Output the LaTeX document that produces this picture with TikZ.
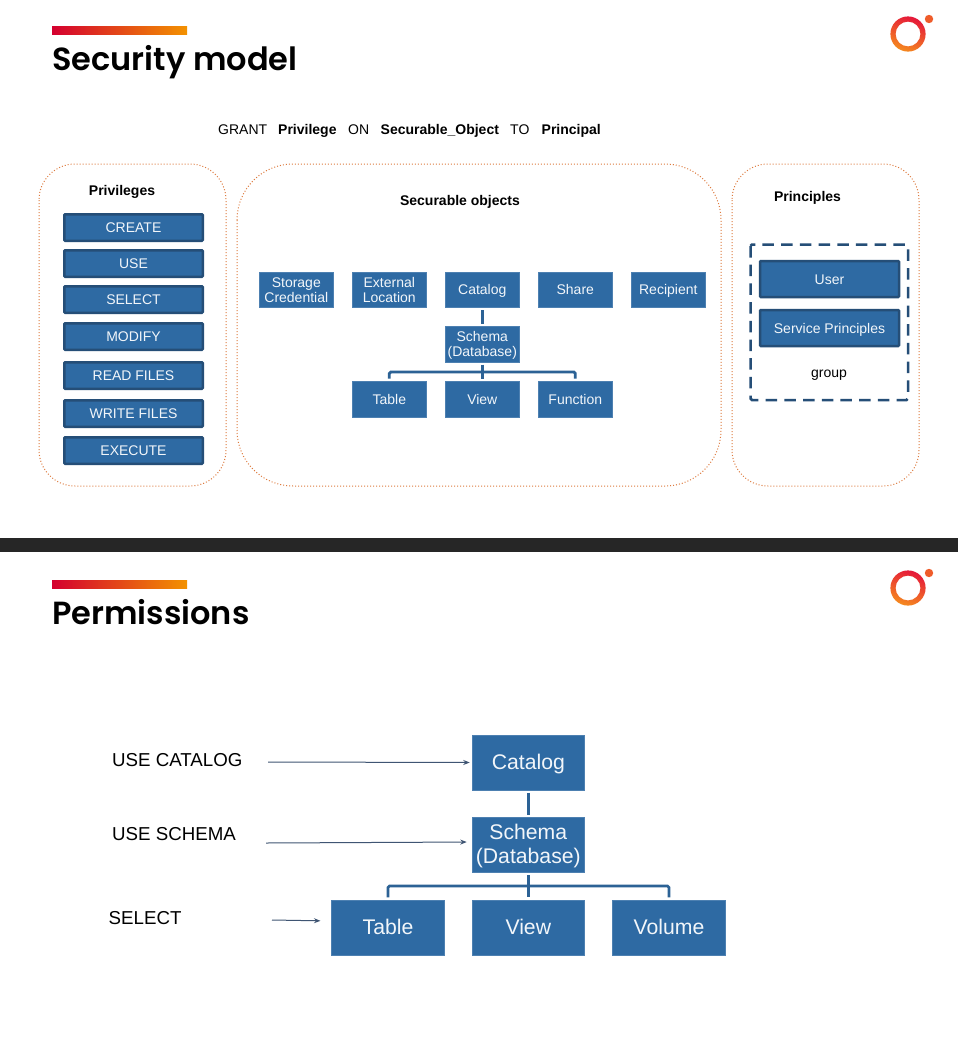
\documentclass[tikz,border=0pt]{standalone}
\usepackage{fontspec}
\setmainfont{Liberation Sans}
\newfontfamily\titlefont[BoldFont={Poppins SemiBold}]{Poppins}
\usetikzlibrary{arrows.meta}
\definecolor{boxblue}{HTML}{2E6AA3}
\definecolor{boxedge}{HTML}{254E77}
\definecolor{softwhite}{HTML}{F2F6FA}
\definecolor{dotorange}{HTML}{DD7A3E}
\definecolor{busblue}{HTML}{2C6295}
\definecolor{arrowgrey}{HTML}{3F5573}
\definecolor{barred}{HTML}{D4002F}
\definecolor{barorange}{HTML}{F39200}
\definecolor{logored}{HTML}{E5173A}
\definecolor{logoorange}{HTML}{F58A1F}
\tikzset{
  x=1pt,y=-1pt,
  flatbox/.style={fill=boxblue,draw=boxblue!85!white,line width=.5pt,inner sep=0pt,align=center,text=softwhite},
  small/.style={font=\fontsize{14}{15}\selectfont,minimum width=74pt,minimum height=35.5pt},
  large/.style={font=\fontsize{21.2}{23.4}\selectfont,minimum width=112.6pt,minimum height=55pt},
  oneS/.style={text height=10pt,text depth=0pt},
  oneL/.style={text height=15.2pt,text depth=2pt},
  listbox/.style={fill=boxblue,draw=boxedge,line width=2.5pt,rounded corners=.8pt,inner sep=0pt,text=softwhite,
     font=\fontsize{14}{15}\selectfont,minimum width=138.5pt,minimum height=26.5pt,text height=10pt,text depth=0pt},
  panel/.style={draw=dotorange,line width=1pt,dash pattern=on 1pt off 2pt,rounded corners=#1},
  bus/.style={draw=busblue,line width=2.8pt,shorten <=2.5pt,shorten >=2.5pt},
  busjoin/.style={draw=busblue,line width=2.8pt,rounded corners=1.5pt,shorten <=2.5pt,shorten >=2.5pt},
  pointer/.style={draw=arrowgrey,line width=1pt,-{Stealth[length=6.5pt,width=5pt]}},
  plain/.style={inner sep=0pt,text=black,font=\fontsize{14}{15}\selectfont},
  heading/.style={plain,font=\fontsize{14}{15}\selectfont\bfseries},
  label/.style={inner sep=0pt,anchor=base west,text=black,font=\fontsize{18.7}{20}\selectfont},
  title/.style={inner sep=0pt,anchor=base west,text=black,font=\titlefont\bfseries\fontsize{32}{36}\selectfont},
  bar/.style={inner sep=0pt,minimum width=135pt,minimum height=8pt,left color=barred,right color=barorange,anchor=north west},
}
\newcommand{\logomark}[2]{%
  \path[even odd rule,shade,shading=axis,top color=logored,bottom color=logoorange,shading angle=-20]
    (#1,#2) circle[radius=17.6] (#1,#2) circle[radius=12.4];
  \fill[color=logoorange!60!logored] (#1+21,#2-15) circle[radius=4.2];}
\newcommand{\liftS}{\rule{0pt}{12pt}}
\newcommand{\liftT}{\rule{0pt}{10.6pt}}
\newcommand{\liftL}{\rule{0pt}{17.5pt}}
\begin{document}
\begin{tikzpicture}
\useasboundingbox (0,0) rectangle (958,1047);
\fill[white] (0,0) rectangle (958,1047);
% band
\node[fill=black!85,inner sep=0pt,minimum width=958pt,minimum height=14pt,anchor=north west] (band) at (0,538) {};
% ---- slide 1
\node[bar] (barA) at (52,26) {};
\node[title] (titleA) at (52,70) {Security model};
\logomark{908}{34}
\node[plain,anchor=base west] (gr1) at (218,134) {GRANT};
\node[heading,anchor=base west] (gr2) at (278,134) {Privilege};
\node[plain,anchor=base west] (gr3) at (348,134) {ON};
\node[heading,anchor=base west] (gr4) at (380.5,134) {Securable\_Object};
\node[plain,anchor=base west] (gr5) at (510,134) {TO};
\node[heading,anchor=base west] (gr6) at (541.5,134) {Principal};
\draw[panel=36pt] (39,164) rectangle (226,486);
\draw[panel=56pt] (237,164) rectangle (721,486);
\draw[panel=36pt] (732,164) rectangle (919,486);
\node[heading] (hPriv) at (122,192) {Privileges};
\node[heading] (hSec) at (460,202) {Securable objects};
\node[heading] (hPrin) at (807.5,198) {Principles};
\node[listbox] (create) at (133.5,227.5) {CREATE};
\node[listbox] (use) at (133.5,263.5) {USE};
\node[listbox] (select) at (133.5,299.5) {SELECT};
\node[listbox] (modify) at (133.5,336.5) {MODIFY};
\node[listbox] (read) at (133.5,375.5) {READ FILES};
\node[listbox] (write) at (133.5,413.5) {WRITE FILES};
\node[listbox] (exec) at (133.5,450.5) {EXECUTE};
\node[flatbox,small] (storage) at (296.3,289.7) {\liftT Storage\\Credential};
\node[flatbox,small] (external) at (389.3,289.7) {\liftT External\\Location};
\node[flatbox,small,oneS] (catA) at (482.3,289.7) {Catalog};
\node[flatbox,small,oneS] (share) at (575.3,289.7) {Share};
\node[flatbox,small,oneS] (recip) at (668.3,289.7) {Recipient};
\node[flatbox,small] (schA) at (482.3,344) {\liftS Schema\\(Database)};
\node[flatbox,small,oneS] (tabA) at (389.3,399) {Table};
\node[flatbox,small,oneS] (viewA) at (482.3,399) {View};
\node[flatbox,small,oneS] (funcA) at (575.3,399) {Function};
\coordinate (busA) at (482.3,372);
\draw[bus] (catA) -- (schA);
\draw[bus] (schA) -- (viewA);
\draw[busjoin] (tabA.north) |- (busA) -| (funcA.north);
\draw[draw=boxedge,line width=2.5pt,dash pattern=on 11.5pt off 7.2pt,rounded corners=1.5pt] (750.5,244.5) rectangle (908,400);
\node[listbox,minimum width=139pt,minimum height=36pt] (userN) at (829.5,279) {User};
\node[listbox,minimum width=139pt,minimum height=36pt] (svc) at (829.5,328) {Service Principles};
\node[plain] (grp) at (829,375) {group};
% ---- slide 2
\node[bar] (barB) at (52,580) {};
\node[title] (titleB) at (52,624) {Permissions};
\logomark{908}{588}
\node[label] (l1) at (112,766) {USE CATALOG};
\node[label] (l2) at (112,840) {USE SCHEMA};
\node[label] (l3) at (108.5,924) {SELECT};
\node[flatbox,large,oneL] (catB) at (528.3,762.5) {Catalog};
\node[flatbox,large] (schB) at (528.3,845) {\liftL Schema\\(Database)};
\node[flatbox,large,oneL] (tabB) at (388,927.5) {Table};
\node[flatbox,large,oneL] (viewB) at (528.3,927.5) {View};
\node[flatbox,large,oneL] (volB) at (669,927.5) {Volume};
\coordinate (busB) at (528.3,886);
\draw[bus] (catB) -- (schB);
\draw[bus] (schB) -- (viewB);
\draw[busjoin] (tabB.north) |- (busB) -| (volB.north);
\coordinate (s1) at (268,762);
\coordinate (s2) at (266,843);
\coordinate (s3) at (272,920);
\draw[pointer,shorten >=2pt] (s1) -- (catB.west);
\draw[pointer,shorten >=5pt] (s2) -- (schB.west |- 0,842);
\draw[pointer,shorten >=11pt] (s3) -- (tabB.west |- 0,921);
\end{tikzpicture}
\end{document}
